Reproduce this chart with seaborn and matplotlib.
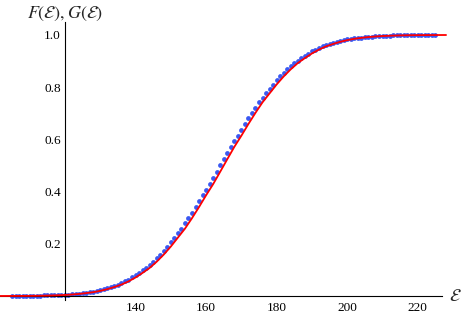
import numpy as np
import pandas as pd
import matplotlib
matplotlib.use("Agg")
import matplotlib.pyplot as plt
from matplotlib.ticker import FixedLocator, FixedFormatter
import seaborn as sns

f_x = list(range(100, 230, 2))
f_val = [0.0001, 0.0001, 0.0002, 0.0003, 0.0004, 0.0006, 0.0009, 0.0013, 0.0020, 0.0029,
         0.0040, 0.0057, 0.0080, 0.0110, 0.0146, 0.0197, 0.0262, 0.0344, 0.0436, 0.0559,
         0.0708, 0.0885, 0.1075, 0.1314, 0.1587, 0.1894, 0.2236, 0.2578, 0.2981, 0.3409,
         0.3859, 0.4286, 0.4761, 0.5239, 0.5714, 0.6141, 0.6591, 0.7019, 0.7422, 0.7764,
         0.8106, 0.8413, 0.8686, 0.8925, 0.9115, 0.9292, 0.9441, 0.9564, 0.9656, 0.9738,
         0.9803, 0.9854, 0.9890, 0.9920, 0.9943, 0.9960, 0.9971, 0.9980, 0.9987, 0.9991,
         0.9994, 0.9996, 0.9997, 0.9998, 0.9999]

# G(E): blue dots, one per unit
g_x = list(range(105, 226))
g_val = [0.000, 0.000, 0.000, 0.001, 0.001, 0.001, 0.001, 0.001, 0.001, 0.002,
         0.002, 0.002, 0.003, 0.003, 0.004, 0.005, 0.005, 0.006, 0.008, 0.009,
         0.011, 0.013, 0.015, 0.017, 0.020, 0.023, 0.026, 0.030, 0.035, 0.039,
         0.044, 0.050, 0.056, 0.063, 0.071, 0.079, 0.089, 0.098, 0.108, 0.119,
         0.131, 0.145, 0.159, 0.174, 0.189, 0.206, 0.223, 0.240, 0.258, 0.278,
         0.298, 0.319, 0.341, 0.363, 0.386, 0.407, 0.429, 0.452, 0.476, 0.500,
         0.524, 0.548, 0.571, 0.593, 0.614, 0.637, 0.659, 0.681, 0.702, 0.722,
         0.742, 0.760, 0.777, 0.794, 0.810, 0.826, 0.841, 0.855, 0.868, 0.880,
         0.892, 0.902, 0.912, 0.921, 0.929, 0.937, 0.944, 0.950, 0.956, 0.961,
         0.966, 0.970, 0.974, 0.977, 0.980, 0.983, 0.985, 0.987, 0.989, 0.990,
         0.992, 0.993, 0.994, 0.995, 0.996, 0.996, 0.997, 0.997, 0.998, 0.998,
         0.998, 0.999, 0.999, 0.999, 0.999, 0.999, 0.999, 1.000, 1.000, 1.000,
         1.000]

x_major = [140, 160, 180, 200, 220]
x_labels = ["140", "160", "180", "200", "220"]
y_major = [0.2, 0.4, 0.6, 0.8, 1.0]
y_labels = ["0.2", "0.4", "0.6", "0.8", "1.0"]

df_f = pd.DataFrame({"E": f_x, "val": f_val})
df_g = pd.DataFrame({"E": g_x, "val": g_val})

sns.set_theme(style="white")
plt.rcParams["font.family"] = ["Liberation Serif", "DejaVu Serif"]
plt.rcParams["mathtext.fontset"] = "stix"

fig = plt.figure(figsize=(4.69, 3.16), dpi=100)
ax = fig.add_axes([0, 0, 1, 1])
ax.patch.set_alpha(0)

sns.scatterplot(data=df_g, x="E", y="val", ax=ax, color="#3a58f2", s=12,
                linewidth=0, zorder=2, legend=False)
sns.lineplot(data=df_f, x="E", y="val", ax=ax, color="#ff0000", linewidth=1.3,
             zorder=3, legend=False)

ax.set_xlim(101.6, 234.5)
ax.set_ylim(-0.0766, 1.134)
ax.set_xlabel("")
ax.set_ylabel("")

for side in ["top", "right"]:
    ax.spines[side].set_visible(False)
ax.spines["left"].set_position(("data", 120))
ax.spines["bottom"].set_position(("data", 0))
ax.spines["left"].set_bounds(-0.015, 1.05)
ax.spines["bottom"].set_bounds(101.6, 226.8)
for side in ["left", "bottom"]:
    ax.spines[side].set_color("black")
    ax.spines[side].set_linewidth(0.8)

ax.xaxis.set_major_locator(FixedLocator(x_major))
ax.xaxis.set_major_formatter(FixedFormatter(x_labels))
ax.xaxis.set_minor_locator(FixedLocator([v for v in range(125, 230, 5) if v % 20 != 0]))
ax.yaxis.set_major_locator(FixedLocator(y_major))
ax.yaxis.set_major_formatter(FixedFormatter(y_labels))
ax.yaxis.set_minor_locator(FixedLocator([0.05, 0.1, 0.15, 0.25, 0.3, 0.35, 0.45, 0.5,
                                         0.55, 0.65, 0.7, 0.75, 0.85, 0.9, 0.95]))
ax.tick_params(axis="both", which="major", direction="in", length=3.2, width=0.6,
               labelsize=9.5, colors="black", pad=3)
ax.tick_params(axis="both", which="minor", direction="in", length=1.8, width=0.5,
               colors="black")
ax.tick_params(axis="x", which="major", pad=4)

ax.text(120, 1.08, r"$F(\mathcal{E}),G(\mathcal{E})$", ha="center", va="center",
        fontsize=13)
ax.text(230.5, 0.0, r"$\mathcal{E}$", ha="center", va="center", fontsize=13)

fig.savefig("out.png", dpi=100)
